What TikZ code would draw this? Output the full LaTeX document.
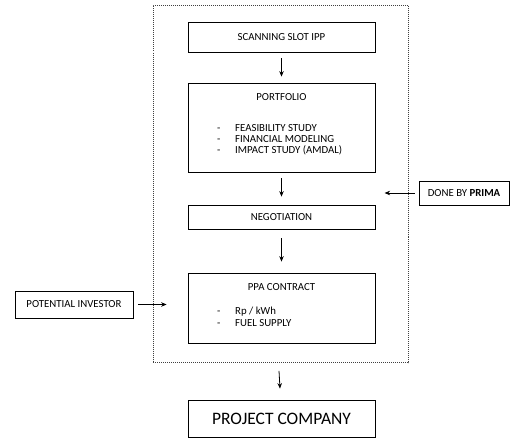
\documentclass[tikz,border=0pt]{standalone}
\usepackage{fontspec}
\setmainfont{Carlito}
\usetikzlibrary{arrows.meta}
\newcommand{\bulletitem}[1]{\makebox[18pt][l]{-}#1}
\begin{document}
\begin{tikzpicture}[x=1pt,y=-1pt,
  box/.style={draw, line width=0.8pt, inner sep=0pt, font=\fontsize{10.8}{12}\selectfont},
  small/.style={inner sep=0pt, font=\fontsize{10.8}{12}\selectfont},
  flow/.style={-{Stealth[length=5.5pt,width=4.5pt]}, line width=0.8pt},
  frame/.style={draw, line width=0.7pt, black!75, dash pattern=on 1pt off 1pt}]
\useasboundingbox (0,0) rectangle (510,438);

% outer dotted frame
\node[frame, minimum width=255pt, minimum height=357pt, inner sep=0pt] (frame) at (280.5,184) {};

% process steps
\node[box, minimum width=187pt, minimum height=30pt] (scan) at (281.5,37) {SCANNING SLOT IPP};
\node[box, minimum width=187pt, minimum height=89pt] (port) at (281.5,127.5) {};
\node[box, minimum width=187pt, minimum height=24pt] (nego) at (281.5,217) {NEGOTIATION};
\node[box, minimum width=187pt, minimum height=70pt] (ppa) at (281.5,308) {};

\node[small] (porttitle) at (281.5,97) {PORTFOLIO};
\node[small, anchor=west] (p1) at (217,128) {\bulletitem{FEASIBILITY STUDY}};
\node[small, anchor=west] (p2) at (217,139) {\bulletitem{FINANCIAL MODELING}};
\node[small, anchor=west] (p3) at (217,150) {\bulletitem{IMPACT STUDY (AMDAL)}};

\node[small] (ppatitle) at (281.5,287) {PPA CONTRACT};
\node[small, anchor=west] (q1) at (217,312) {\bulletitem{Rp / kWh}};
\node[small, anchor=west] (q2) at (217,323) {\bulletitem{FUEL SUPPLY}};

% side boxes
\node[box, minimum width=118pt, minimum height=27pt] (inv) at (74,304.5) {POTENTIAL INVESTOR};
\node[box, minimum width=90pt, minimum height=24pt] (prima) at (464,193) {DONE BY \textbf{PRIMA}};

% result
\node[box, minimum width=187pt, minimum height=37pt, font=\fontsize{17.5}{20}\selectfont] (proj) at (281.5,418.5) {PROJECT COMPANY};

% connectors (y axis points down, so shifts are in page direction)
\draw[flow] ([yshift=-6pt]scan.south) -- ([yshift=6pt]port.north);
\draw[flow] ([yshift=-6pt]port.south) -- ([yshift=8pt]nego.north);
\draw[flow] ([yshift=-9pt]nego.south) -- ([yshift=11pt]ppa.north);
\draw[flow] ([xshift=5pt]inv.east) -- ([xshift=-21pt]ppa.west |- inv.east);
\draw[flow] ([xshift=-4pt]prima.west) -- ([xshift=-34pt]prima.west);
\draw[flow] ([xshift=-1.5pt,yshift=-8pt]frame.south) -- ([xshift=-1.5pt,yshift=11pt]proj.north);
\end{tikzpicture}
\end{document}
